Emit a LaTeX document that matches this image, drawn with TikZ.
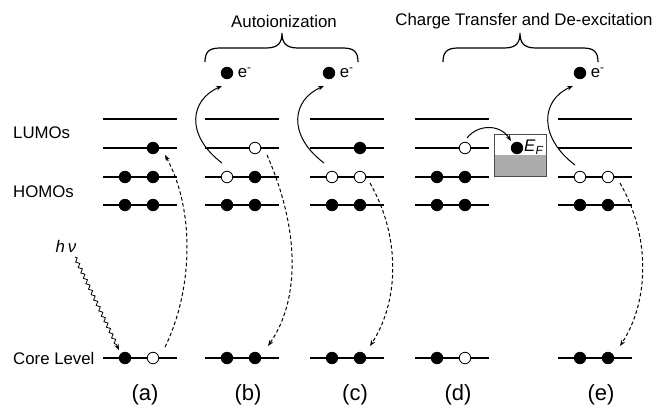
\documentclass[tikz,border=0pt]{standalone}
\usepackage{fontspec}
\setmainfont{Liberation Sans}
\usetikzlibrary{arrows.meta,decorations.pathmorphing,calc}
\begin{document}
\begin{tikzpicture}[x=1pt,y=-1pt,
  lvl/.style={line width=1.2pt},
  full/.style={circle,fill=black,draw=black,line width=0.8pt,minimum size=11.5pt,inner sep=0pt},
  hole/.style={circle,fill=white,draw=black,line width=0.8pt,minimum size=11.5pt,inner sep=0pt},
  dasharr/.style={dash pattern=on 3.5pt off 2.5pt, line width=1pt, -{Stealth[length=6pt,width=4.5pt]}},
  solarr/.style={line width=1pt, -{Stealth[length=6pt,width=4.5pt]}},
  lab/.style={font=\fontsize{16.8}{20}\selectfont, inner sep=0pt},
  big/.style={font=\fontsize{22}{26}\selectfont, inner sep=0pt},
  bracepath/.style={line width=1.2pt}
]
\useasboundingbox (0,0) rectangle (657,410);

% level lines
\foreach \L in {103,205,310,415,558}{
  \foreach \y in {119,148,177,205,358}{
    \draw[lvl] (\L,\y) -- ++(74,0);
  }
}

% (a)
\node[full] (aL2) at (153,148) {};
\node[full] (aH11) at (125,177) {};
\node[full] (aH12) at (153,177) {};
\node[full] (aH21) at (125,205) {};
\node[full] (aH22) at (153,205) {};
\node[full] (aC1) at (125,358) {};
\node[hole] (aC2) at (153,358) {};
% (b)
\node[hole] (bL2) at (255,148) {};
\node[hole] (bH11) at (227,177) {};
\node[full] (bH12) at (255,177) {};
\node[full] (bH21) at (227,205) {};
\node[full] (bH22) at (255,205) {};
\node[full] (bC1) at (227,358) {};
\node[full] (bC2) at (255,358) {};
\node[full] (bE) at (227,73) {};
% (c)
\node[full] (cL2) at (360,148) {};
\node[hole] (cH11) at (332,177) {};
\node[hole] (cH12) at (360,177) {};
\node[full] (cH21) at (332,205) {};
\node[full] (cH22) at (360,205) {};
\node[full] (cC1) at (332,358) {};
\node[full] (cC2) at (360,358) {};
\node[full] (cE) at (329,73) {};
% (d)
\node[hole] (dL2) at (465,148) {};
\node[full] (dH11) at (437,177) {};
\node[full] (dH12) at (465,177) {};
\node[full] (dH21) at (437,205) {};
\node[full] (dH22) at (465,205) {};
\node[full] (dC1) at (437,358) {};
\node[hole] (dC2) at (465,358) {};
% (e)
\node[hole] (eH11) at (580,177) {};
\node[hole] (eH12) at (608,177) {};
\node[full] (eH21) at (580,205) {};
\node[full] (eH22) at (608,205) {};
\node[full] (eC1) at (580,358) {};
\node[full] (eC2) at (608,358) {};
\node[full] (eE) at (580,73) {};

% electron labels
\foreach \n in {bE,cE,eE}{
  \node[lab,anchor=west] at ([xshift=4.5pt]\n.east) {e\textsuperscript{-}};
}

% metal box
\node[draw=gray!60!black, line width=1pt, minimum width=52pt, minimum height=42pt, inner sep=0pt,
  path picture={\fill[gray!65] (path picture bounding box.west) rectangle (path picture bounding box.south east);}] (box) at (520,155) {};
\node[full] (ef) at (517,148) {};
\node[lab,anchor=west] (eflab) at (524,147) {\textit{E}\textsubscript{\textit{F}}};

% dashed de-excitation arrows
\draw[dasharr] ([shift={(12,-11)}]aC2.center) .. controls +(28,-57) and +(30,55) .. ([shift={(12,7)}]aL2.center);
\draw[dasharr] ([shift={(12,7)}]bL2.center) .. controls +(33,75) and +(32,-46) .. ([shift={(13,-12)}]bC2.center);
\draw[dasharr] ([shift={(10,6)}]cH12.center) .. controls +(30,52) and +(30,-46) .. ([shift={(10,-12)}]cC2.center);
\draw[dasharr] ([shift={(12,6)}]eH12.center) .. controls +(30,52) and +(30,-46) .. ([shift={(12,-12)}]eC2.center);

% autoionization arrows
\draw[solarr] ([shift={(-5,-14)}]bH11.center) .. controls +(-37,-28) and +(-32,14) .. ([shift={(-5,13)}]bE.center);
\draw[solarr] ([shift={(-8,-14)}]cH11.center) .. controls +(-37,-28) and +(-32,14) .. ([shift={(-5,13)}]cE.center);
\draw[solarr] ([shift={(-5,-12)}]eH11.center) .. controls +(-37,-28) and +(-32,14) .. ([shift={(-7,13)}]eE.center);

% charge transfer arrow
\draw[solarr] ([shift={(2,-10)}]dL2.center) .. controls +(11,-14) and +(-11,-17) .. ([shift={(-6,-7)}]ef.center);

% photon
\node[lab] (hv) at (66,246) {\textit{h\,ν}};
\draw[line width=0.8pt, decorate, decoration={snake,amplitude=1.6pt,segment length=6pt,post length=6pt},
  -{Stealth[length=6pt,width=4.5pt]}] ([shift={(9,11)}]hv.center) -- ([shift={(-6,-8)}]aC1.center);

% braces
\draw[bracepath] (205,62) .. controls (205,52) and (209,48) .. (220,48) -- (266,48)
  .. controls (278,48) and (282,43) .. (282,33) .. controls (282,43) and (286,48) .. (298,48)
  -- (343,48) .. controls (354,48) and (358,52) .. (358,62);
\draw[bracepath] (443,62) .. controls (443,52) and (447,48) .. (458,48) -- (504,48)
  .. controls (516,48) and (520,43) .. (520,33) .. controls (520,43) and (524,48) .. (536,48)
  -- (583,48) .. controls (594,48) and (598,52) .. (598,62);

% titles
\node[lab] (t1) at (284,21) {Autoionization};
\node[lab] (t2) at (524,21) {Charge Transfer and De-excitation};

% left labels
\node[lab,anchor=west] (lumo) at (13,133) {LUMOs};
\node[lab,anchor=west] (homo) at (13,192) {HOMOs};
\node[lab,anchor=west] (core) at (13,358) {Core Level};

% panel labels
\node[big] (la) at (145,395) {(a)};
\node[big] (lb) at (248,395) {(b)};
\node[big] (lc) at (355,395) {(c)};
\node[big] (ld) at (458,395) {(d)};
\node[big] (le) at (601,395) {(e)};
\end{tikzpicture}
\end{document}
